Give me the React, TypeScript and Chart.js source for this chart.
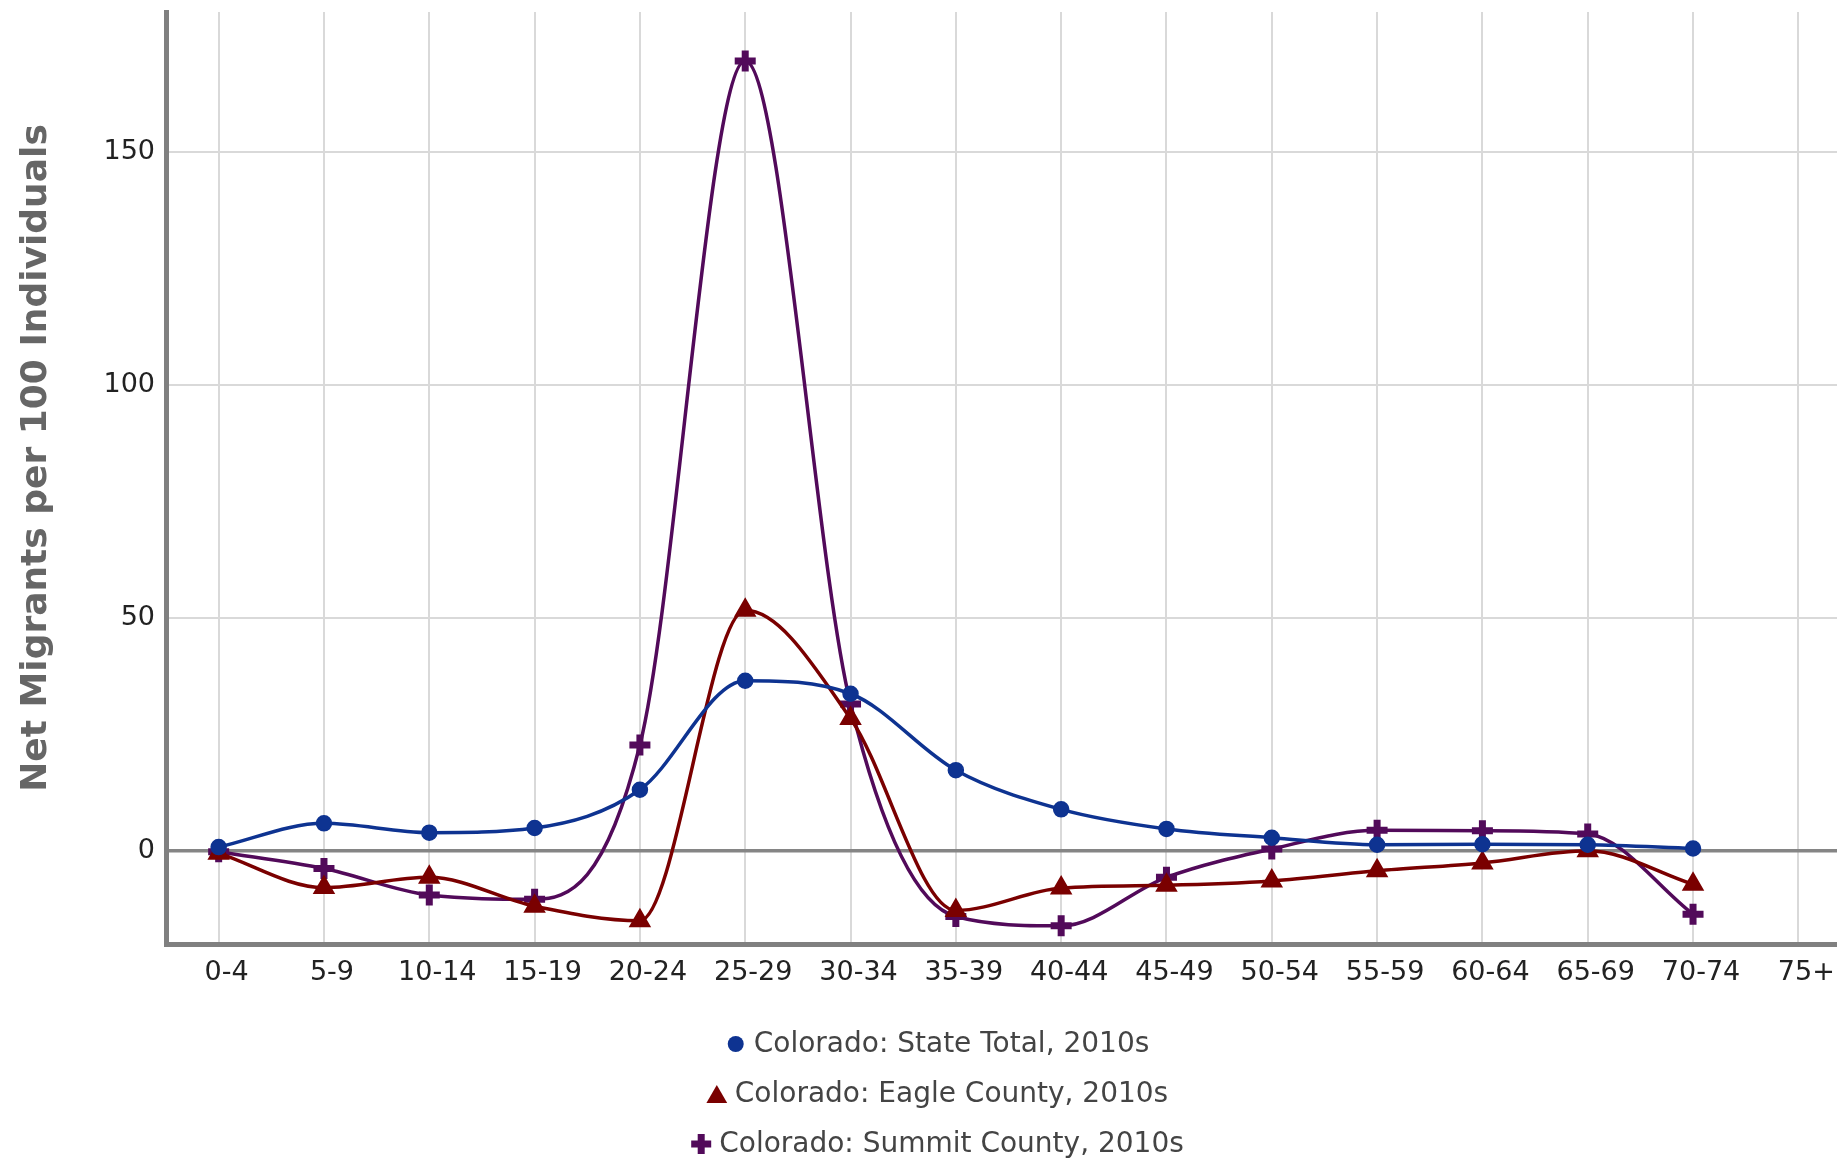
import React, { useEffect, useRef } from 'react';
import { Chart, registerables } from 'chart.js';

Chart.register(...registerables);

const ageGroups = ['0-4', '5-9', '10-14', '15-19', '20-24', '25-29', '30-34', '35-39', '40-44', '45-49', '50-54', '55-59', '60-64', '65-69', '70-74', '75+'];
const stateTotal = [0.8, 5.9, 3.9, 4.9, 13.1, 36.5, 33.7, 17.3, 8.9, 4.7, 2.8, 1.3, 1.4, 1.3, 0.5, null];
const eagleCounty = [-0.5, -7.9, -5.7, -11.9, -15.0, 51.6, 28.4, -12.8, -8.0, -7.4, -6.5, -4.3, -2.6, 0.0, -7.2, null];
const summitCounty = [-0.2, -3.8, -9.5, -10.4, 22.7, 169.5, 31.5, -14.1, -16.1, -5.7, 0.4, 4.4, 4.3, 3.6, -13.6, null];
const seriesNames = ['Colorado: State Total, 2010s', 'Colorado: Eagle County, 2010s', 'Colorado: Summit County, 2010s'];
const yTickValues = [0, 50, 100, 150];
const yTitle = 'Net Migrants per 100 Individuals';

const COLORS = ['#0e3391', '#7a0000', '#520a5a'];
const STYLES = ['circle', 'triangle', 'cross'];
const CANVAS_W = 1876;
const CANVAS_H = 1161;
const FONT = 'DejaVu Sans';

const yTitlePlugin = {
  id: 'yTitle',
  afterDraw(chart: any) {
    const ctx = chart.ctx as CanvasRenderingContext2D;
    ctx.save();
    ctx.translate(37, 458);
    ctx.rotate(-Math.PI / 2);
    ctx.font = `bold 36px "${FONT}"`;
    ctx.fillStyle = '#666666';
    ctx.textAlign = 'center';
    ctx.textBaseline = 'middle';
    ctx.fillText(yTitle, 0, 0);
    ctx.restore();
  },
};

const legendPlugin = {
  id: 'stackedLegend',
  afterDraw(chart: any) {
    const ctx = chart.ctx as CanvasRenderingContext2D;
    const cx = 938;
    const baseY = 1044;
    ctx.save();
    ctx.font = `28px "${FONT}"`;
    ctx.textBaseline = 'middle';
    ctx.textAlign = 'left';
    chart.data.datasets.forEach((ds: any, i: number) => {
      const y = baseY + i * 50;
      const text = ds.label as string;
      const tw = ctx.measureText(text).width;
      const mh = 9;
      const gap = 9;
      const start = cx - (2 * mh + gap + tw) / 2;
      const mx = start + mh;
      const color = COLORS[i];
      ctx.fillStyle = color;
      ctx.strokeStyle = color;
      const style = STYLES[i];
      if (style === 'circle') {
        ctx.beginPath();
        ctx.arc(mx, y, 8, 0, Math.PI * 2);
        ctx.fill();
      } else if (style === 'triangle') {
        const r = 12;
        const cy = y + r / 4;
        ctx.beginPath();
        ctx.moveTo(mx, cy - r);
        ctx.lineTo(mx + r * Math.sin(Math.PI * 2 / 3), cy + r / 2);
        ctx.lineTo(mx - r * Math.sin(Math.PI * 2 / 3), cy + r / 2);
        ctx.closePath();
        ctx.fill();
      } else {
        const r = 10;
        ctx.lineWidth = 7;
        ctx.beginPath();
        ctx.moveTo(mx - r, y);
        ctx.lineTo(mx + r, y);
        ctx.moveTo(mx, y - r);
        ctx.lineTo(mx, y + r);
        ctx.stroke();
      }
      ctx.fillStyle = '#444444';
      ctx.fillText(text, start + 2 * mh + gap, y + 1);
    });
    ctx.restore();
  },
};

export default function App() {
  const canvasRef = useRef<HTMLCanvasElement | null>(null);

  useEffect(() => {
    if (!canvasRef.current) return;
    Chart.defaults.font.family = FONT;
    const seriesData = [stateTotal, eagleCounty, summitCounty];
    const chart = new Chart(canvasRef.current, {
      type: 'line',
      data: {
        labels: ageGroups,
        datasets: seriesData.map((d, i) => ({
          label: seriesNames[i],
          data: d,
          borderColor: COLORS[i],
          backgroundColor: COLORS[i],
          pointBackgroundColor: COLORS[i],
          pointBorderColor: COLORS[i],
          pointStyle: STYLES[i] as any,
          pointRadius: i === 0 ? 7.5 : i === 1 ? 11 : 10.5,
          pointBorderWidth: i === 2 ? 7 : i === 1 ? 2 : 1.5,
          borderWidth: 3.5,
          cubicInterpolationMode: 'monotone',
          tension: 0.4,
          fill: false,
          clip: false,
        })),
      },
      options: {
        animation: false,
        responsive: false,
        maintainAspectRatio: false,
        layout: { autoPadding: false, padding: { left: 0, top: 12, right: 25, bottom: 167 } },
        plugins: {
          legend: { display: false },
          tooltip: { enabled: false },
        },
        scales: {
          x: {
            type: 'category',
            offset: true,
            grid: { color: '#d9d9d9', lineWidth: 2, drawTicks: false, offset: false },
            border: { color: '#808080', width: 5 },
            ticks: {
              color: '#222222',
              font: { family: FONT, size: 27 },
              padding: 13,
              labelOffset: 8,
              maxRotation: 0,
              autoSkip: false,
            },
            afterFit: (s: any) => {
              s.height = 50;
              s.paddingLeft = 0;
              s.paddingRight = 0;
            },
          },
          y: {
            min: -20,
            max: 180,
            afterBuildTicks: (s: any) => {
              s.ticks = yTickValues.map((v) => ({ value: v }));
            },
            grid: {
              color: (c: any) => (c.tick && c.tick.value === 0 ? '#858585' : '#d9d9d9'),
              lineWidth: (c: any) => (c.tick && c.tick.value === 0 ? 3.5 : 2),
              drawTicks: false,
            },
            border: { color: '#808080', width: 5 },
            ticks: {
              color: '#222222',
              font: { family: FONT, size: 27 },
              padding: 11,
            },
            title: { display: false },
            afterFit: (s: any) => {
              s.width = 166;
              s.paddingTop = 0;
              s.paddingBottom = 0;
            },
          },
        },
      } as any,
      plugins: [yTitlePlugin, legendPlugin],
    });
    return () => chart.destroy();
  }, []);

  return (
    <div style={{ position: 'fixed', left: 0, top: 0, width: 1837, height: 1161, overflow: 'hidden', background: '#fff' }}>
      <div style={{ position: 'relative', width: CANVAS_W, height: CANVAS_H }}>
        <canvas ref={canvasRef} width={CANVAS_W} height={CANVAS_H} style={{ width: CANVAS_W, height: CANVAS_H, display: 'block' }} />
      </div>
    </div>
  );
}
